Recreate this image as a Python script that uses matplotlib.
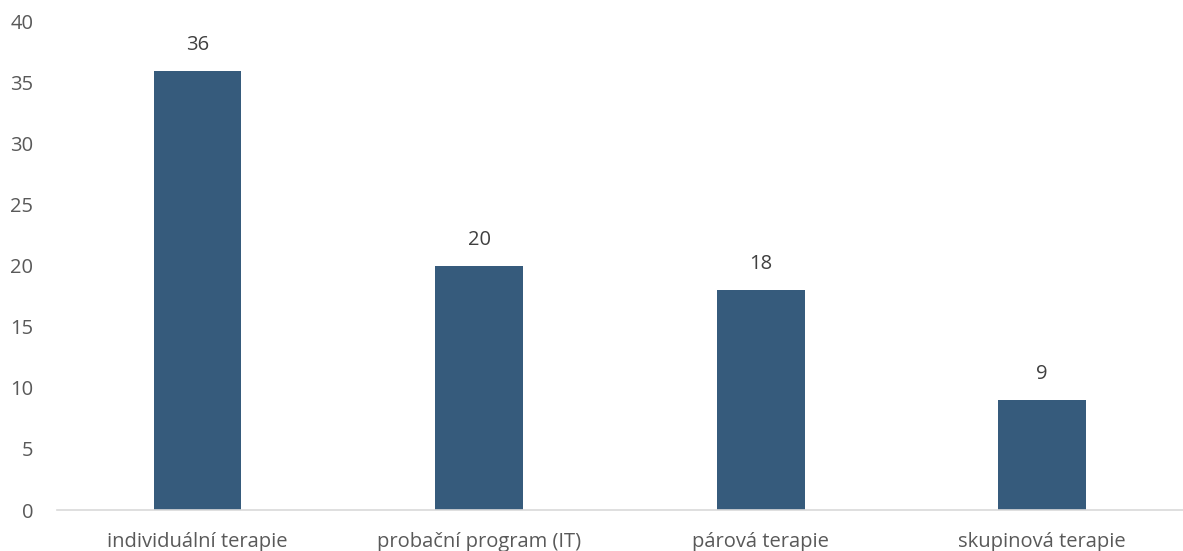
import matplotlib.pyplot as plt

# --- data ---
categories = ["individuální terapie", "probační program (IT)", "párová terapie", "skupinová terapie"]
values = [36, 20, 18, 9]

plt.rcParams['font.family'] = ['Open Sans', 'DejaVu Sans']

fig = plt.figure(figsize=(11.83, 5.51), dpi=100)
ax = fig.add_axes([0.048, 0.0744, 0.952, 0.886])

x = range(len(categories))
bars = ax.bar(x, values, width=0.312, color='#365B7C', zorder=2)

for b, v in zip(bars, values):
    ax.text(b.get_x() + b.get_width() / 2, v + 1.3, str(v), ha='center', va='bottom',
            fontsize=14.5, color='#404040')

ax.set_xlim(-0.5, 3.5)
ax.set_ylim(0, 40)
ax.set_yticks(range(0, 41, 5))
ax.set_xticks(list(x))
ax.set_xticklabels(categories, fontsize=14.8)
ax.tick_params(axis='both', length=0, labelsize=14.5, labelcolor='#595959')
ax.tick_params(axis='x', pad=15.5)
ax.tick_params(axis='y', pad=17)

for s in ['top', 'right', 'left']:
    ax.spines[s].set_visible(False)
ax.spines['bottom'].set_color('#D9D9D9')
ax.spines['bottom'].set_linewidth(1.2)

fig.savefig('out.png', dpi=100)
